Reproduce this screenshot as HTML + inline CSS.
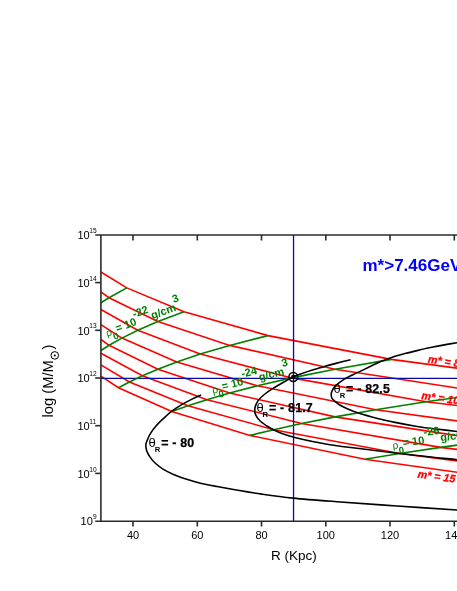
<!DOCTYPE html><html><head><meta charset="utf-8"><style>html,body{margin:0;padding:0;background:#fff}body{width:457px;height:591px;position:relative;overflow:hidden;font-family:"Liberation Sans",sans-serif}</style></head><body>
<svg width="457" height="591" viewBox="0 0 457 591" style="position:absolute;left:0;top:0;transform:translateZ(0);font-family:'Liberation Sans',sans-serif">
<g fill="none" stroke="#ff0000" stroke-width="1.6">
<path d="M100.9 272.0 L126.8 287.9 L184.0 311.7 L268.0 335.6 L391.2 359.4 L461.0 368.6"/>
<path d="M100.9 291.8 L109.0 297.7 L157.9 321.5 L229.7 345.4 L335.0 369.2 L461.0 388.6"/>
<path d="M100.9 309.5 L137.8 330.2 L200.2 354.1 L291.7 377.9 L426.0 401.8 L461.0 406.0"/>
<path d="M100.9 324.7 L121.9 338.1 L176.8 362.0 L257.4 385.8 L375.7 409.7 L461.0 421.4"/>
<path d="M100.9 339.5 L109.1 345.3 L157.9 369.2 L229.7 393.0 L335.1 416.9 L461.0 436.3"/>
<path d="M100.9 353.3 L142.4 375.8 L206.9 399.7 L301.6 423.5 L440.6 447.4 L461.0 449.8"/>
<path d="M100.9 364.9 L129.4 382.0 L187.9 405.8 L273.7 429.7 L399.6 453.5 L461.0 461.4"/>
<path d="M100.9 376.1 L118.5 387.7 L171.8 411.5 L250.0 435.4 L364.8 459.2 L461.0 472.8"/>
</g>
<g fill="none" stroke="#0808a4" stroke-width="1.3">
<path d="M293.55 235 V521"/><path d="M101 378.45 H460"/>
</g>
<g fill="none" stroke="#008000" stroke-width="1.6">
<path d="M100.9 302.8 L109.0 297.7 L126.8 287.9"/>
<path d="M100.9 350.5 L109.1 345.3 L121.9 338.1 L137.8 330.2 L157.9 321.5 L184.0 311.7"/>
<path d="M118.5 387.7 L129.4 382.0 L142.4 375.8 L157.9 369.2 L176.8 362.0 L200.2 354.1 L229.7 345.4 L268.0 335.6"/>
<path d="M171.8 411.5 L187.9 405.8 L206.9 399.7 L229.7 393.0 L257.4 385.8 L291.7 377.9 L335.0 369.2 L391.2 359.4"/>
<path d="M250.0 435.4 L273.7 429.7 L301.6 423.5 L335.1 416.9 L375.7 409.7 L426.0 401.8 L461.0 397.0"/>
<path d="M364.8 459.2 L399.6 453.5 L440.6 447.4 L461.0 444.6"/>
</g>
<g fill="none" stroke="#000" stroke-width="1.6">
<path d="M201.2 394.9 C199.5 395.7 194.4 397.9 191.0 399.6 C187.6 401.4 183.8 403.3 180.5 405.4 C177.2 407.4 173.8 409.6 170.9 411.9 C168.0 414.1 165.5 416.6 163.0 418.9 C160.5 421.2 158.0 423.6 156.0 425.9 C154.0 428.2 152.2 430.6 150.8 432.9 C149.3 435.2 148.2 438.0 147.4 439.9 C146.6 441.8 146.0 442.7 145.9 444.5 C145.8 446.3 145.9 448.4 146.6 450.5 C147.3 452.6 148.5 454.8 149.9 456.9 C151.3 459.0 152.9 461.0 155.1 463.0 C157.3 465.0 159.9 467.2 163.0 469.1 C166.1 471.0 169.4 472.6 173.5 474.4 C177.6 476.1 182.8 478.1 187.5 479.6 C192.2 481.1 196.6 482.4 201.5 483.5 C206.4 484.6 210.9 485.4 217.0 486.5 C223.1 487.6 230.6 489.0 238.0 490.3 C245.4 491.6 252.4 492.8 261.6 494.1 C270.8 495.4 280.6 496.8 293.2 498.1 C305.8 499.4 319.7 500.4 337.0 501.7 C354.3 503.0 376.5 504.6 397.0 506.0 C417.5 507.4 449.5 509.5 460.0 510.2"/>
<path d="M350.6 359.8 C348.0 360.4 340.1 362.3 335.0 363.6 C329.9 364.9 323.9 366.7 320.0 367.8 C316.1 368.9 314.5 369.3 311.5 370.3 C308.5 371.3 305.1 372.5 302.0 373.6 C298.9 374.7 296.2 375.6 293.1 377.0 C290.0 378.4 286.9 380.4 283.5 382.2 C280.1 384.1 276.2 386.4 273.0 388.4 C269.8 390.4 266.8 392.5 264.3 394.5 C261.8 396.5 259.7 398.4 258.1 400.6 C256.6 402.8 255.4 405.3 255.0 407.6 C254.6 409.9 254.7 412.4 255.5 414.6 C256.3 416.8 258.0 418.9 259.9 420.8 C261.8 422.7 264.6 424.5 266.9 426.0 C269.2 427.5 271.0 428.6 273.9 430.0 C276.8 431.4 280.4 433.0 284.0 434.3 C287.6 435.6 290.6 436.5 295.8 437.8 C301.0 439.1 308.1 440.7 315.0 442.0 C321.9 443.3 326.7 444.4 337.0 445.8 C347.3 447.2 363.7 449.1 377.0 450.7 C390.3 452.3 403.2 453.9 417.0 455.5 C430.8 457.1 452.8 459.2 460.0 460.0"/>
<path d="M460.0 342.2 C457.8 342.6 451.5 343.6 447.0 344.4 C442.5 345.2 437.7 346.1 433.0 347.0 C428.3 347.9 423.7 349.0 419.0 350.1 C414.3 351.2 409.7 352.3 405.0 353.6 C400.3 354.9 395.6 356.2 391.0 357.8 C386.4 359.4 381.8 361.0 377.5 362.9 C373.2 364.8 369.4 366.9 365.3 368.9 C361.2 370.9 356.8 372.8 353.0 374.7 C349.2 376.6 345.4 378.4 342.5 380.3 C339.6 382.2 337.2 384.1 335.5 385.9 C333.8 387.7 332.7 389.4 332.0 391.0 C331.3 392.6 331.1 394.1 331.2 395.5 C331.3 396.9 331.6 398.1 332.9 399.6 C334.2 401.1 336.5 402.9 339.0 404.5 C341.5 406.1 344.3 407.4 347.8 408.9 C351.3 410.4 355.1 412.0 360.0 413.6 C364.9 415.2 371.7 417.0 377.5 418.5 C383.3 420.0 388.6 421.1 395.0 422.4 C401.4 423.7 409.0 425.1 415.8 426.2 C422.6 427.3 428.6 428.1 436.0 429.0 C443.4 429.9 456.0 431.3 460.0 431.8"/>
<circle cx="293.3" cy="377" r="4.4" stroke-width="1.5"/>
</g><circle cx="293.3" cy="377" r="2.2" fill="#000"/>
<g fill="none" stroke="#2b2b2b" stroke-width="1.6">
<path d="M95.2 235 H460"/><path d="M100.9 235 V521.8"/><path d="M95.2 521.2 H460" stroke-width="1.4"/>
<path d="M95.2 473.4 H101"/>
<path d="M95.2 425.7 H101"/>
<path d="M95.2 378.0 H101"/>
<path d="M95.2 330.3 H101"/>
<path d="M95.2 282.6 H101"/>
<path d="M133.0 235 v5.5"/>
<path d="M133.0 521 v5.5"/>
<path d="M197.3 235 v5.5"/>
<path d="M197.3 521 v5.5"/>
<path d="M261.5 235 v5.5"/>
<path d="M261.5 521 v5.5"/>
<path d="M325.8 235 v5.5"/>
<path d="M325.8 521 v5.5"/>
<path d="M390.0 235 v5.5"/>
<path d="M390.0 521 v5.5"/>
<path d="M454.3 235 v5.5"/>
<path d="M454.3 521 v5.5"/>
</g>
<g fill="#000" font-size="11">
<text x="92.8" y="525.3" text-anchor="end">10</text><text x="92.9" y="519.2" font-size="6.6">9</text>
<text x="89.7" y="477.6" text-anchor="end">10</text><text x="89.3" y="471.5" font-size="6.6">10</text>
<text x="89.7" y="429.9" text-anchor="end">10</text><text x="89.3" y="423.8" font-size="6.6">11</text>
<text x="89.7" y="382.2" text-anchor="end">10</text><text x="89.3" y="376.1" font-size="6.6">12</text>
<text x="89.7" y="334.5" text-anchor="end">10</text><text x="89.3" y="328.4" font-size="6.6">13</text>
<text x="89.7" y="286.8" text-anchor="end">10</text><text x="89.3" y="280.7" font-size="6.6">14</text>
<text x="89.7" y="239.1" text-anchor="end">10</text><text x="89.3" y="233.0" font-size="6.6">15</text>
<text x="133.0" y="539.2" text-anchor="middle">40</text>
<text x="197.3" y="539.2" text-anchor="middle">60</text>
<text x="261.5" y="539.2" text-anchor="middle">80</text>
<text x="325.8" y="539.2" text-anchor="middle">100</text>
<text x="390.0" y="539.2" text-anchor="middle">120</text>
<text x="454.3" y="539.2" text-anchor="middle">140</text>
</g>
<text x="294" y="560.4" font-size="13.5" text-anchor="middle" fill="#000">R (Kpc)</text>
<g transform="translate(53.1 417.4) rotate(-90)" fill="#000"><text x="0" y="0" font-size="14.7">log (M/M</text><circle cx="62" cy="1.7" r="3.8" fill="none" stroke="#000" stroke-width="1"/><circle cx="62" cy="1.7" r="1" fill="#000"/><text x="67.8" y="0" font-size="14.7">)</text></g>
<text x="362.5" y="271.4" font-size="17" font-weight="bold" fill="#0000ff">m*&gt;7.46GeV</text>
<g transform="translate(108.0 337.0) rotate(-20.0)" fill="#008000" font-weight="bold" font-size="11"><text x="-0.5" y="-0.5" font-weight="normal" font-size="10.2">ρ</text><text x="5" y="5" font-size="9.5">0</text><text x="10" y="-1.5">= 10</text><text x="31.0" y="-9" font-size="11">-22</text><text x="48" y="-1.5">g/cm</text><text x="73.5" y="-9.5" font-size="11">3</text></g>
<g transform="translate(213.5 394.0) rotate(-14.0)" fill="#008000" font-weight="bold" font-size="11"><text x="-0.5" y="-0.5" font-weight="normal" font-size="10.2">ρ</text><text x="5" y="5" font-size="9.5">0</text><text x="10" y="-1.5">= 10</text><text x="31.8" y="-9" font-size="11">-24</text><text x="48" y="-1.5">g/cm</text><text x="73.5" y="-9.5" font-size="11">3</text></g>
<g transform="translate(393.5 449.5) rotate(-8.0)" fill="#008000" font-weight="bold" font-size="11"><text x="-0.5" y="-0.5" font-weight="normal" font-size="10.2">ρ</text><text x="5" y="5" font-size="9.5">0</text><text x="10" y="-1.5">= 10</text><text x="32.2" y="-9" font-size="11">-26</text><text x="48" y="-1.5">g/cm</text><text x="73.5" y="-9.5" font-size="11">3</text></g>
<text transform="translate(427.5 362.4) rotate(8.5)" fill="#ff0000" stroke="#ff0000" stroke-width="0.3" font-weight="bold" font-style="italic" font-size="10.8">m* = 8</text>
<text transform="translate(421.0 399.0) rotate(8.0)" fill="#ff0000" stroke="#ff0000" stroke-width="0.3" font-weight="bold" font-style="italic" font-size="10.8">m* = 10</text>
<text transform="translate(417.2 477.4) rotate(8.0)" fill="#ff0000" stroke="#ff0000" stroke-width="0.3" font-weight="bold" font-style="italic" font-size="10.8">m* = 15</text>
<g fill="#000" font-weight="bold" font-size="12.4"><text x="148.6" y="446.9" font-weight="normal" font-size="13">θ</text><text x="154.8" y="451.9" font-size="7.6">R</text><text x="161.2" y="446.9" letter-spacing="0.2" stroke="#000" stroke-width="0.25">= - 80</text></g>
<g fill="#000" font-weight="bold" font-size="12.4"><text x="256.4" y="412.1" font-weight="normal" font-size="13">θ</text><text x="262.6" y="417.1" font-size="7.6">R</text><text x="269.0" y="412.1" letter-spacing="0.2" stroke="#000" stroke-width="0.25">= - 81.7</text></g>
<g fill="#000" font-weight="bold" font-size="12.4"><text x="333.5" y="392.6" font-weight="normal" font-size="13">θ</text><text x="339.7" y="397.6" font-size="7.6">R</text><text x="346.1" y="392.6" letter-spacing="0.2" stroke="#000" stroke-width="0.25">= - 82.5</text></g>
</svg>
</body></html>
